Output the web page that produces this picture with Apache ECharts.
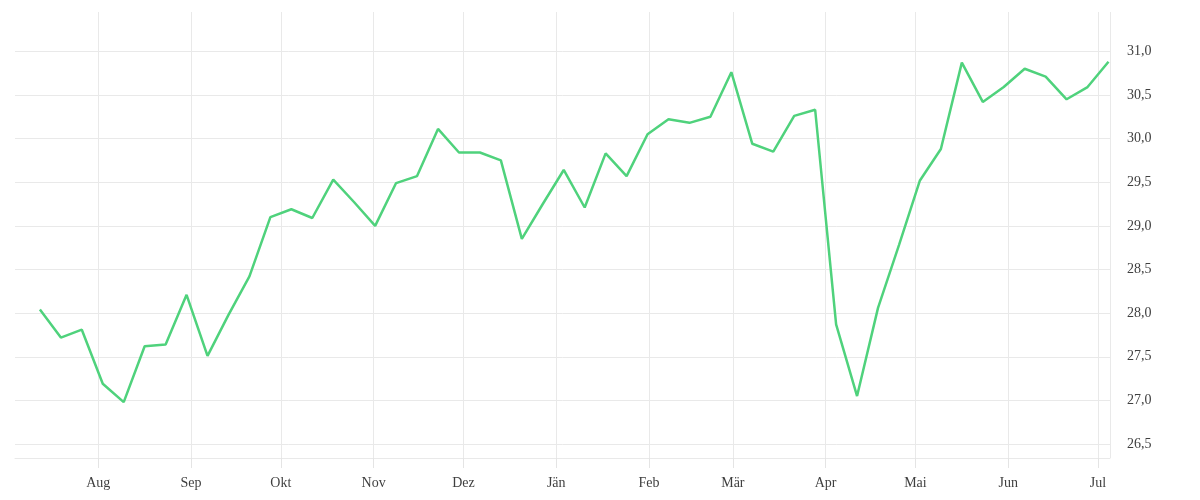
<!DOCTYPE html>
<html>
<head>
<meta charset="utf-8">
<script src="https://cdn.jsdelivr.net/npm/echarts@6/dist/echarts.min.js"></script>
<style>
html,body{margin:0;padding:0;background:#fff;}
#chart{width:1200px;height:500px;}
</style>
</head>
<body>
<div id="chart"></div>
<script>
// Weekly observation dates
const dates = [
  '2018-07-12','2018-07-19','2018-07-26','2018-08-02','2018-08-09','2018-08-16','2018-08-23','2018-08-30',
  '2018-09-06','2018-09-13','2018-09-20','2018-09-27','2018-10-04','2018-10-11','2018-10-18','2018-10-25',
  '2018-11-01','2018-11-08','2018-11-15','2018-11-22','2018-11-29','2018-12-06','2018-12-13','2018-12-20',
  '2018-12-27','2019-01-03','2019-01-10','2019-01-17','2019-01-24','2019-01-31','2019-02-07','2019-02-14',
  '2019-02-21','2019-02-28','2019-03-07','2019-03-14','2019-03-21','2019-03-28','2019-04-04','2019-04-11',
  '2019-04-18','2019-04-25','2019-05-02','2019-05-09','2019-05-16','2019-05-23','2019-05-30','2019-06-06',
  '2019-06-13','2019-06-20','2019-06-27','2019-07-04'
];
// Series values
const values = [
  28.04, 27.72, 27.81, 27.19, 26.98, 27.62, 27.64, 28.21,
  27.51, 27.98, 28.42, 29.10, 29.19, 29.09, 29.53, 29.27,
  29.00, 29.49, 29.57, 30.11, 29.84, 29.84, 29.75, 28.85,
  29.25, 29.64, 29.21, 29.83, 29.57, 30.05, 30.22, 30.18,
  30.25, 30.76, 29.94, 29.85, 30.26, 30.33, 27.87, 27.05,
  28.06, 28.78, 29.52, 29.88, 30.87, 30.42, 30.59, 30.80,
  30.71, 30.45, 30.59, 30.88
];
// Month tick labels (index = JS month number)
const monthLabels = ['Jän','Feb','Mär','Apr','Mai','Jun','Jul','Aug','Sep','Okt','Nov','Dez'];
// Axis range
const xMin = '2018-07-04T04:20';
const xMax = '2019-07-05T00:00';
const yMin = 26.34;
const yMax = 31.45;

const gridColor = '#e9e9e9';
const labelFont = '"Liberation Serif", serif';

const seriesData = dates.map((d, i) => [d + 'T12:00', values[i]]);

const chart = echarts.init(document.getElementById('chart'));
chart.setOption({
  animation: false,
  backgroundColor: '#ffffff',
  grid: { left: 15, right: 90, top: 12, bottom: 42, containLabel: false },
  xAxis: {
    type: 'time',
    min: xMin,
    max: xMax,
    splitNumber: 12,
    maxInterval: 31 * 86400000,
    minInterval: 28 * 86400000,
    axisLine: { show: true, lineStyle: { color: gridColor, width: 1 } },
    axisTick: { show: true, inside: false, length: 10, lineStyle: { color: '#e4e4e4', width: 1 } },
    splitLine: { show: true, showMinLine: false, lineStyle: { color: gridColor, width: 1 } },
    axisLabel: {
      showMinLabel: false,
      showMaxLabel: false,
      margin: 18,
      color: '#3f3f3f',
      fontFamily: labelFont,
      fontSize: 14,
      formatter: function (v) {
        const d = new Date(v);
        return d.getDate() === 1 ? monthLabels[d.getMonth()] : '';
      }
    }
  },
  yAxis: {
    type: 'value',
    position: 'right',
    min: yMin,
    max: yMax,
    splitNumber: 10,
    axisLine: { show: false },
    axisTick: { show: false },
    splitLine: { show: true, showMaxLine: false, lineStyle: { color: gridColor, width: 1 } },
    axisLabel: {
      showMinLabel: false,
      showMaxLabel: false,
      margin: 17,
      color: '#3f3f3f',
      fontFamily: labelFont,
      fontSize: 14,
      formatter: function (v) { return v.toFixed(1).replace('.', ','); }
    }
  },
  series: [{
    type: 'line',
    data: seriesData,
    showSymbol: false,
    smooth: false,
    lineStyle: { color: '#4fd27c', width: 2.5 },
    itemStyle: { color: '#4fd27c' }
  }]
});
</script>
</body>
</html>
